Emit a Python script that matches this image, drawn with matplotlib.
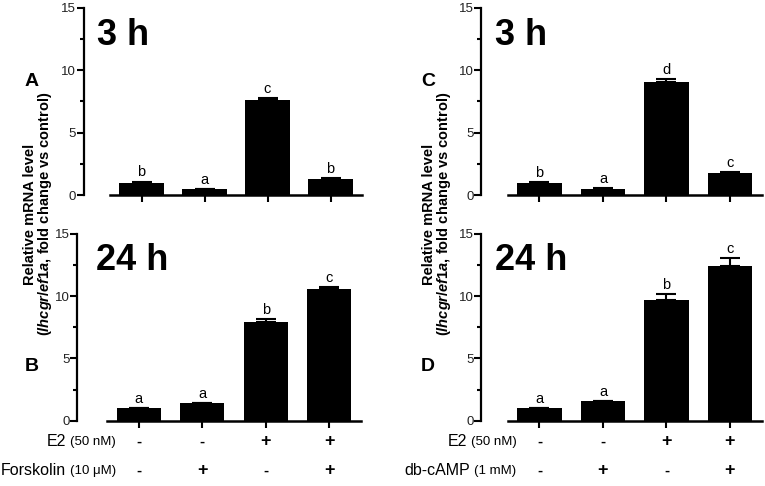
import matplotlib
matplotlib.use('Agg')
import matplotlib.pyplot as plt
import matplotlib.ticker as ticker
import numpy as np

plt.rcParams['font.family'] = ['Liberation Sans', 'DejaVu Sans']
plt.rcParams['mathtext.fontset'] = 'custom'
plt.rcParams['mathtext.rm'] = 'Liberation Sans:bold'
plt.rcParams['mathtext.it'] = 'Liberation Sans:bold:italic'
plt.rcParams['mathtext.bf'] = 'Liberation Sans:bold'

# data
groups = [0, 1, 2, 3]
a_3h = [1.0, 0.45, 7.6, 1.3]
a_3h_err = [0.08, 0.03, 0.18, 0.07]
a_3h_letters = ['b', 'a', 'c', 'b']

b_24h = [1.0, 1.4, 7.95, 10.55]
b_24h_err = [0.03, 0.05, 0.25, 0.2]
b_24h_letters = ['a', 'a', 'b', 'c']

c_3h = [1.0, 0.5, 9.1, 1.8]
c_3h_err = [0.05, 0.03, 0.2, 0.06]
c_3h_letters = ['b', 'a', 'd', 'c']

d_24h = [1.0, 1.55, 9.7, 12.45]
d_24h_err = [0.03, 0.05, 0.45, 0.6]
d_24h_letters = ['a', 'a', 'b', 'c']

e2_signs = ['-', '-', '+', '+']
second_signs = ['-', '+', '-', '+']
left_second = ('Forskolin', '(10 \u03bcM)')
right_second = ('db-cAMP', '(1 mM)')

W, H = 765, 486
fig = plt.figure(figsize=(W / 100, H / 100), dpi=100)


def px_axes(x0, x1, ytop, ybot):
    return fig.add_axes([x0 / W, 1 - ybot / H, (x1 - x0) / W, (ybot - ytop) / H])


def panel(ax, vals, errs, letters, spine_off):
    ax.bar(groups, vals, width=0.7, color='black')
    ax.errorbar(groups, vals, yerr=[np.zeros(len(errs)), errs], fmt='none',
                ecolor='black', elinewidth=1.5, capsize=7, capthick=1.5)
    for x, v, e, l in zip(groups, vals, errs, letters):
        ax.annotate(l, (x, v + e), xytext=(0, 1.5), textcoords='offset points',
                    ha='center', va='bottom', fontsize=10.5)
    ax.set_xlim(-0.5, 3.5)
    ax.set_ylim(0, 15)
    ax.spines['top'].set_visible(False)
    ax.spines['right'].set_visible(False)
    ax.spines['left'].set_position(('outward', spine_off))
    ax.spines['left'].set_linewidth(1.6)
    ax.spines['bottom'].set_linewidth(1.8)
    ax.set_xticks(groups)
    ax.set_xticklabels([])
    ax.yaxis.set_major_locator(ticker.MultipleLocator(5))
    ax.yaxis.set_minor_locator(ticker.MultipleLocator(2.5))
    ax.tick_params(axis='x', length=5, width=1.5, direction='out')
    ax.tick_params(axis='y', which='major', length=5, width=1.5, labelsize=9.5, pad=0.5,
                   labelcolor='#222222')
    ax.tick_params(axis='y', which='minor', length=3, width=1.5)
    ax.patch.set_alpha(0)


axA = px_axes(110, 362, 8, 195)
axB = px_axes(107, 361, 234, 420.7)
axC = px_axes(507.7, 761.7, 8, 195)
axD = px_axes(507.7, 761.7, 234, 420.7)

panel(axA, a_3h, a_3h_err, a_3h_letters, 19)
panel(axB, b_24h, b_24h_err, b_24h_letters, 21.5)
panel(axC, c_3h, c_3h_err, c_3h_letters, 19)
panel(axD, d_24h, d_24h_err, d_24h_letters, 19)

# time titles
for title, x, y in [('3 h', 97, 45), ('24 h', 96, 270), ('3 h', 495, 45), ('24 h', 495, 270)]:
    fig.text(x / W, 1 - y / H, title, fontsize=26, fontweight='bold',
             ha='left', va='baseline')

# panel letters
for lab, x, y in [('A', 32, 81), ('B', 32, 366), ('C', 428, 81), ('D', 428, 366)]:
    fig.text(x / W, 1 - y / H, lab, fontsize=14, fontweight='bold', ha='center', va='center')

# y labels
for x1, x2 in [(30, 45), (429, 444)]:
    fig.text(x1 / W, 1 - 214 / H, 'Relative mRNA level', rotation=90, fontsize=10.5,
             fontweight='bold', ha='center', va='center')
    fig.text(x2 / W, 1 - 214 / H, r'($\mathit{lhcgr/ef1a}$, fold change vs control)',
             rotation=90, fontsize=10.5, fontweight='bold', ha='center', va='center')

# treatment rows
fig.canvas.draw()
renderer = fig.canvas.get_renderer()
for ax, second in [(axB, left_second), (axD, right_second)]:
    tr = matplotlib.transforms.blended_transform_factory(ax.transData, ax.transAxes)
    for yrow, (main, sub), signs in [(-0.114, ('E2', '(50 nM)'), e2_signs),
                                      (-0.268, second, second_signs)]:
        t = ax.text(-0.36, yrow, sub, transform=tr, fontsize=9.5, ha='right', va='center',
                    clip_on=False)
        bb = t.get_window_extent(renderer)
        ax.annotate(main, xy=(bb.x0, (bb.y0 + bb.y1) / 2), xycoords='figure pixels',
                    xytext=(-3, 0), textcoords='offset points', fontsize=11.5,
                    ha='right', va='center')
        for x, s in zip(groups, signs):
            ax.text(x, yrow, s, transform=tr, fontsize=13 if s == '+' else 11,
                    fontweight='bold', ha='center', va='center', clip_on=False)

fig.savefig('out.png', dpi=100)
